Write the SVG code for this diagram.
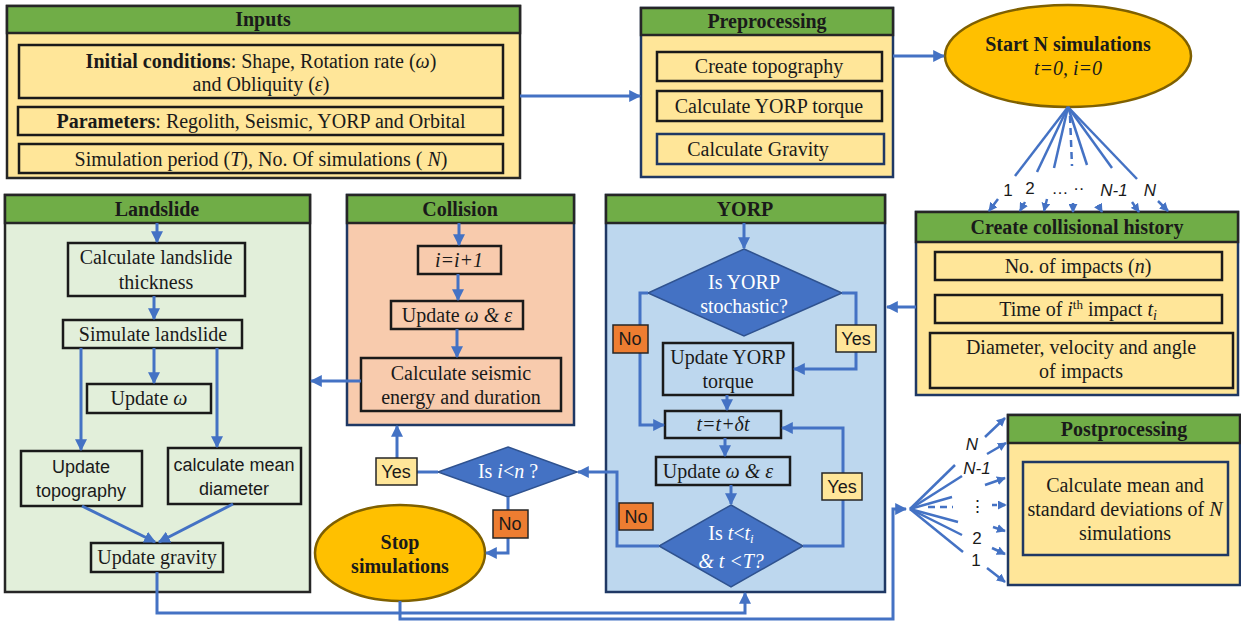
<svg xmlns="http://www.w3.org/2000/svg" width="1241" height="624" viewBox="0 0 1241 624">
<defs>
<style>
.serif{font-family:"Liberation Serif","Times New Roman",serif;font-size:20px;fill:#1a1a1a;text-anchor:middle}
.b{font-weight:bold}
.it{font-style:italic}
.sans{font-family:"Liberation Sans",Arial,sans-serif;font-size:18px;fill:#1a1a1a;text-anchor:middle}
.wt{fill:#ffffff}
.panelY{fill:#FFE699;stroke:#262626;stroke-width:2.5}
.panelYn{fill:#FFE699;stroke:#1F3864;stroke-width:2.5}
.panelG{fill:#E2EFDA;stroke:#262626;stroke-width:2.5}
.panelP{fill:#F8CBAD;stroke:#1F3864;stroke-width:2.5}
.panelB{fill:#BDD7EE;stroke:#1F3864;stroke-width:2.5}
.hdr{fill:#70AD47;stroke:#262626;stroke-width:2.5}
.boxY{fill:#FFE699;stroke:#1a1a1a;stroke-width:2.5}
.boxYn{fill:#FFE699;stroke:#1F3864;stroke-width:2.5}
.boxG{fill:#E2EFDA;stroke:#1a1a1a;stroke-width:2.5}
.boxP{fill:#F8CBAD;stroke:#1a1a1a;stroke-width:2.5}
.boxB{fill:#BDD7EE;stroke:#1a1a1a;stroke-width:2.5}
.dia{fill:#4472C4;stroke:#2F528F;stroke-width:1.5}
.ell{fill:#FFC000;stroke:#7F6000;stroke-width:2.5}
.c{fill:none;stroke:#4472C4;stroke-width:3;marker-end:url(#ah)}
.cn{fill:none;stroke:#4472C4;stroke-width:3}
.f{fill:none;stroke:#4472C4;stroke-width:2.5}
.fd{fill:none;stroke:#4472C4;stroke-width:2.5;stroke-dasharray:7 5}
.sa{fill:none;stroke:#4472C4;stroke-width:2.5;marker-end:url(#sh)}
.lyes{fill:#FFE699;stroke:#262626;stroke-width:1.5}
.lno{fill:#ED7D31;stroke:#262626;stroke-width:1.5}
.fl{font-family:"Liberation Sans",Arial,sans-serif;font-size:17px;fill:#1a1a1a;text-anchor:middle}
</style>
<marker id="ah" viewBox="0 0 10 10" refX="9" refY="5" markerWidth="12" markerHeight="12" markerUnits="userSpaceOnUse" orient="auto"><path d="M0,0 L10,5 L0,10 z" fill="#4472C4"/></marker>
<marker id="sh" viewBox="0 0 10 10" refX="9" refY="5" markerWidth="9" markerHeight="9" markerUnits="userSpaceOnUse" orient="auto"><path d="M0,0 L10,5 L0,10 z" fill="#4472C4"/></marker>
</defs>
<rect width="1241" height="624" fill="#ffffff"/>

<g id="inputs">
<rect class="panelY" x="7" y="6" width="513" height="172"/>
<rect class="hdr" x="7" y="6" width="513" height="27"/>
<text class="serif b" x="263" y="26">Inputs</text>
<rect class="boxY" x="19" y="45" width="484" height="53"/>
<text class="serif" x="261" y="68"><tspan class="b">Initial conditions</tspan>:  Shape, Rotation rate (<tspan class="it">ω</tspan>)</text>
<text class="serif" x="261" y="91">and Obliquity (<tspan class="it">ε</tspan>)</text>
<rect class="boxY" x="18" y="107" width="485" height="28"/>
<text class="serif" x="261" y="128"><tspan class="b">Parameters</tspan>: Regolith, Seismic, YORP and Orbital</text>
<rect class="boxY" x="19" y="144" width="484" height="29"/>
<text class="serif" x="261" y="166">Simulation period (<tspan class="it">T</tspan>), No. Of simulations ( <tspan class="it">N</tspan>)</text>
</g>

<g id="preprocessing">
<rect class="panelYn" x="641" y="8" width="252" height="169"/>
<rect class="hdr" x="641" y="8" width="252" height="27"/>
<text class="serif b" x="767" y="28">Preprocessing</text>
<rect class="boxY" x="657" y="52" width="225" height="29"/>
<text class="serif" x="769" y="73">Create topography</text>
<rect class="boxY" x="657" y="91" width="225" height="30"/>
<text class="serif" x="769" y="113">Calculate YORP torque</text>
<rect class="boxYn" x="657" y="134" width="227" height="30"/>
<text class="serif" x="758" y="156">Calculate Gravity</text>
</g>

<g id="start">
<ellipse class="ell" cx="1068" cy="56" rx="123" ry="51"/>
<text class="serif b" x="1068" y="51">Start N simulations</text>
<text class="serif it" x="1068" y="75">t=0, i=0</text>
</g>

<g id="collisional-history">
<rect class="panelYn" x="916" y="212" width="322" height="183"/>
<rect class="hdr" x="916" y="212" width="322" height="30"/>
<text class="serif b" x="1077" y="234">Create collisional history</text>
<rect class="boxY" x="935" y="252" width="287" height="28"/>
<text class="serif" x="1078" y="273">No. of impacts (<tspan class="it">n</tspan>)</text>
<rect class="boxY" x="935" y="295" width="287" height="28"/>
<text class="serif" x="1078" y="316">Time of <tspan class="it">i</tspan><tspan font-size="13" dy="-7">th</tspan><tspan dy="7"> impact </tspan><tspan class="it">t</tspan><tspan class="it" font-size="14" dy="4">i</tspan></text>
<rect class="boxY" x="930" y="333" width="303" height="55"/>
<text class="serif" x="1081" y="354">Diameter, velocity and angle</text>
<text class="serif" x="1081" y="378">of  impacts</text>
</g>

<g id="landslide">
<rect class="panelG" x="5" y="195" width="305" height="397"/>
<rect class="hdr" x="5" y="195" width="305" height="28"/>
<text class="serif b" x="157" y="216">Landslide</text>
<rect class="boxG" x="68" y="243" width="177" height="53"/>
<text class="serif" x="156" y="264">Calculate landslide</text>
<text class="serif" x="156" y="289">thickness</text>
<rect class="boxG" x="63" y="320" width="179" height="28"/>
<text class="serif" x="153" y="341">Simulate landslide</text>
<rect class="boxG" x="87" y="384" width="124" height="29"/>
<text class="serif" x="149" y="405">Update <tspan class="it">ω</tspan></text>
<rect class="boxG" x="21" y="451" width="121" height="55"/>
<text class="sans" x="81" y="473">Update</text>
<text class="sans" x="81" y="497">topography</text>
<rect class="boxG" x="168" y="448" width="133" height="56"/>
<text class="sans" x="234" y="471">calculate mean</text>
<text class="sans" x="234" y="495">diameter</text>
<rect class="boxG" x="91" y="543" width="132" height="29"/>
<text class="serif" x="157" y="564">Update gravity</text>
</g>

<g id="collision">
<rect class="panelP" x="347" y="195" width="227" height="230"/>
<rect class="hdr" x="347" y="195" width="227" height="28"/>
<text class="serif b" x="460" y="216">Collision</text>
<rect class="boxP" x="418" y="246" width="83" height="28"/>
<text class="serif it" x="459" y="267">i=i+1</text>
<rect class="boxP" x="391" y="301" width="132" height="28"/>
<text class="serif" x="457" y="322">Update <tspan class="it">ω &amp; ε</tspan></text>
<rect class="boxP" x="361" y="358" width="200" height="53"/>
<text class="serif" x="461" y="380">Calculate seismic</text>
<text class="serif" x="461" y="404">energy and duration</text>
</g>

<g id="yorp">
<rect class="panelB" x="606" y="195" width="279" height="397"/>
<rect class="hdr" x="606" y="195" width="279" height="28"/>
<text class="serif b" x="745" y="216">YORP</text>
<polygon class="dia" points="744,249 842,293 744,336 648,293"/>
<text class="serif wt" x="744" y="289">Is  YORP</text>
<text class="serif wt" x="744" y="313">stochastic?</text>
<rect class="boxB" x="663" y="343" width="130" height="52"/>
<text class="serif" x="728" y="364">Update YORP</text>
<text class="serif" x="728" y="388">torque</text>
<rect class="boxB" x="665" y="411" width="116" height="27"/>
<text class="serif it" x="723" y="431">t=t+δt</text>
<rect class="boxB" x="656" y="457" width="134" height="28"/>
<text class="serif" x="718" y="478">Update <tspan class="it">ω &amp; ε</tspan></text>
<polygon class="dia" points="731,505 803,546 731,587 659,546"/>
<text class="serif wt" x="731" y="540">Is <tspan class="it">t</tspan>&lt;<tspan class="it">t</tspan><tspan class="it" font-size="13" dy="3">i</tspan></text>
<text class="serif wt it" x="731" y="568">&amp; t &lt;T?</text>
</g>

<g id="is-i-lt-n">
<polygon class="dia" points="508,447 577,472 508,497 438,472"/>
<text class="serif wt" x="508" y="478">Is <tspan class="it">i</tspan>&lt;<tspan class="it">n</tspan> ?</text>
</g>

<g id="stop">
<ellipse class="ell" cx="400" cy="553" rx="85" ry="48"/>
<text class="serif b" x="400" y="549">Stop</text>
<text class="serif b" x="400" y="573">simulations</text>
</g>

<g id="postprocessing">
<rect class="panelYn" x="1008" y="415" width="232" height="170"/>
<rect class="hdr" x="1008" y="415" width="232" height="28"/>
<text class="serif b" x="1124" y="436">Postprocessing</text>
<rect class="boxYn" x="1023" y="462" width="205" height="93"/>
<text class="serif" x="1125" y="492">Calculate mean and</text>
<text class="serif" x="1125" y="516">standard deviations of <tspan class="it">N</tspan></text>
<text class="serif" x="1125" y="540">simulations</text>
</g>

<g id="connectors">
<path class="c" d="M520,96 H640"/>
<path class="c" d="M893,56 H944"/>
<path class="c" d="M916,307 H887"/>
<path class="c" d="M361,381 H311"/>
<path class="c" d="M157,223 V242"/>
<path class="c" d="M154,296 V319"/>
<path class="c" d="M81,348 V450"/>
<path class="c" d="M154,348 V383"/>
<path class="c" d="M217,348 V447"/>
<path class="c" d="M82,506 L155,542"/>
<path class="c" d="M233,504 L159,542"/>
<path class="c" d="M459,223 V245"/>
<path class="c" d="M458,274 V300"/>
<path class="c" d="M457,329 V357"/>
<path class="c" d="M744,223 V248"/>
<path class="c" d="M648,293 H640 V425 H664"/>
<path class="c" d="M842,293 H856 V369 H794"/>
<path class="c" d="M727,395 V410"/>
<path class="c" d="M725,438 V456"/>
<path class="c" d="M731,485 V504"/>
<path class="c" d="M803,546 H843 V428 H782"/>
<path class="c" d="M659,546 H617 V472 H578"/>
<path class="cn" d="M438,472 H417"/>
<path class="c" d="M397,458 V426"/>
<path class="c" d="M508,497 V553 H486"/>
<path class="c" d="M157,572 V613 H745 V593"/>
<path class="c" d="M400,601 V619 H893 V509 H906"/>
<path class="f" d="M1068,107 L1015,176"/>
<path class="f" d="M1068,107 L1037,172"/>
<path class="f" d="M1068,107 L1054,168"/>
<path class="fd" d="M1070,116 L1072,166"/>
<path class="f" d="M1068,107 L1087,165"/>
<path class="f" d="M1068,107 L1112,168"/>
<path class="f" d="M1068,107 L1137,179"/>
<path class="sa" d="M998,199 L989,211"/>
<path class="sa" d="M1025,202 L1020,211"/>
<path class="sa" d="M1047,199 L1044,211"/>
<path class="sa" d="M1073,203 L1073,212"/>
<path class="sa" d="M1098,205 L1102,212"/>
<path class="sa" d="M1132,202 L1139,212"/>
<path class="sa" d="M1158,201 L1168,211"/>
<path class="f" d="M910,509 L955,465"/>
<path class="f" d="M910,509 L962,476"/>
<path class="f" d="M910,509 L952,497"/>
<path class="fd" d="M928,507 L953,507"/>
<path class="f" d="M910,509 L958,522"/>
<path class="f" d="M910,509 L962,535"/>
<path class="f" d="M910,509 L963,552"/>
<path class="sa" d="M985,437 L1005,418"/>
<path class="sa" d="M987,454 L1006,443"/>
<path class="sa" d="M985,485 L1005,478"/>
<path class="sa" d="M992,505 L1006,505" stroke-dasharray="5 3"/>
<path class="sa" d="M993,527 L1005,531"/>
<path class="sa" d="M992,548 L1005,554"/>
<path class="sa" d="M987,568 L1005,582"/>
</g>

<g id="labels">
<rect class="lno" x="613" y="325" width="35" height="28"/>
<text class="sans" x="630" y="345">No</text>
<rect class="lyes" x="836" y="325" width="40" height="27"/>
<text class="sans" x="856" y="345">Yes</text>
<rect class="lyes" x="822" y="473" width="40" height="27"/>
<text class="sans" x="842" y="493">Yes</text>
<rect class="lno" x="619" y="503" width="34" height="27"/>
<text class="sans" x="636" y="523">No</text>
<rect class="lyes" x="376" y="458" width="41" height="27"/>
<text class="sans" x="396" y="478">Yes</text>
<rect class="lno" x="493" y="510" width="35" height="28"/>
<text class="sans" x="510" y="530">No</text>
<text class="fl" x="1008" y="196">1</text>
<text class="fl" x="1030" y="194">2</text>
<text class="fl" x="1068" y="194">… ··</text>
<text class="fl it" x="1114" y="196">N-1</text>
<text class="fl it" x="1150" y="196">N</text>
<text class="fl it" x="972" y="450">N</text>
<text class="fl it" x="977" y="474">N-1</text>
<text class="fl" x="977" y="512">⋮</text>
<text class="fl" x="977" y="544">2</text>
<text class="fl" x="976" y="566">1</text>
</g>
</svg>
